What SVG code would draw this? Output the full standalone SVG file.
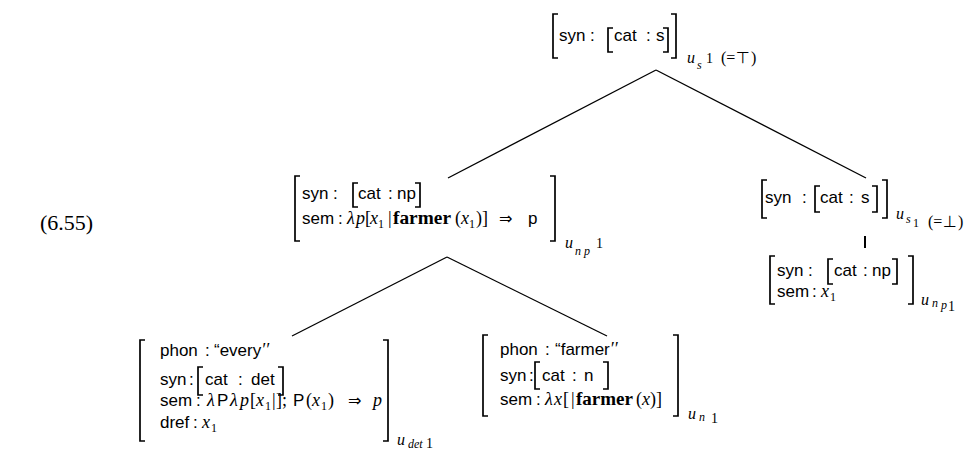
<svg xmlns="http://www.w3.org/2000/svg" width="971" height="450" viewBox="0 0 971 450">
<style>
.bg{fill:#fff}
.sf{font-family:"Liberation Sans",Arial,sans-serif;font-size:17px;fill:#000}
.mi{font-family:"Liberation Serif","Times New Roman",serif;font-style:italic;font-size:18px}
.mb{font-family:"Liberation Serif","Times New Roman",serif;font-weight:bold;font-size:18px}
.mr{font-family:"Liberation Serif","Times New Roman",serif;font-size:18px}
.sy{font-family:"DejaVu Sans",sans-serif;font-size:16px}
.su{font-family:"Liberation Serif",serif;font-style:italic;font-size:16px}
.ss{font-family:"Liberation Serif",serif;font-style:italic;font-size:12px}
.sn{font-family:"Liberation Serif",serif;font-size:14px}
.sp{font-family:"Liberation Serif",serif;font-size:16px}
.sm{font-size:12px}
.br{fill:none;stroke:#000;stroke-width:1.7}
.edge line{stroke:#000;stroke-width:1.3}
.lab{font-family:"Liberation Serif","Times New Roman",serif;font-size:22px}
</style>
<rect class="bg" width="971" height="450"/>
<text class="lab" x="40" y="230">(6.55)</text>
<g id="edges" class="edge">
<line x1="656" y1="70" x2="448" y2="178"/>
<line x1="656" y1="70" x2="866" y2="178"/>
<line x1="447" y1="257" x2="292" y2="336"/>
<line x1="447" y1="257" x2="607" y2="336"/>
<line x1="865" y1="236" x2="865" y2="248" style="stroke-width:2"/>
</g>
<g id="n_top">
<path class="br" d="M558,14H553V58H558M671,14H676V58H671M613,28H608V52H613M663,28H668V52H663"/>
<text class="sf" y="41"><tspan x="559">syn</tspan><tspan x="590">:</tspan><tspan x="614">cat</tspan><tspan x="646">:</tspan><tspan x="656">s</tspan></text>
<text y="63"><tspan class="su" x="687">u</tspan><tspan class="ss" x="697" y="69">s</tspan><tspan class="sn" x="706" y="63">1</tspan><tspan class="sp" x="721">(=</tspan><tspan class="sy" x="736" style="font-size:16px">⊤</tspan><tspan class="sp" x="751">)</tspan></text>
</g>
<g id="n_np">
<path class="br" d="M300,176H295V241H300M550,176H555V241H550M358,183H353V207H358M415,183H420V207H415"/>
<text class="sf" y="199"><tspan x="302">syn</tspan><tspan x="333">:</tspan><tspan x="358">cat</tspan><tspan x="388">:</tspan><tspan x="397">np</tspan></text>
<text class="sf" y="224"><tspan x="302">sem</tspan><tspan x="338">:</tspan><tspan class="mi" x="347">λ</tspan><tspan class="mi" x="356">p</tspan><tspan class="mr" x="365">[</tspan><tspan class="mi" x="370">x</tspan><tspan class="mr sm" x="378" dy="4">1</tspan><tspan class="mr" x="388" dy="-4">|</tspan><tspan class="mb" x="393" textLength="58" lengthAdjust="spacingAndGlyphs">farmer</tspan><tspan class="mr" x="455">(</tspan><tspan class="mi" x="461">x</tspan><tspan class="mr sm" x="469" dy="4">1</tspan><tspan class="mr" x="476" dy="-4">)</tspan><tspan class="mr" x="482">]</tspan><tspan class="sy" x="499">⇒</tspan><tspan x="528">p</tspan></text>
<text y="248"><tspan class="su" x="565">u</tspan><tspan class="ss" x="575" y="255">n p</tspan><tspan class="sn" x="596" y="248">1</tspan></text>
</g>
<g id="n_s2">
<path class="br" d="M767,180H762V218H767M882,180H887V218H882M820,186H815V212H820M872,186H877V212H872"/>
<text class="sf" y="203"><tspan x="765">syn</tspan><tspan x="802">:</tspan><tspan x="820">cat</tspan><tspan x="849">:</tspan><tspan x="861">s</tspan></text>
<text y="219"><tspan class="su" x="896">u</tspan><tspan class="ss" x="906" y="223">s</tspan><tspan class="sm mr" x="913" y="227">1</tspan><tspan class="sp" x="928">(=</tspan><tspan class="sy" x="943" style="font-size:16px">⊥</tspan><tspan class="sp" x="958">)</tspan></text>
</g>
<g id="n_np2">
<path class="br" d="M775,256H770V304H775M908,256H913V304H908M833,259H828V284H833M892,259H897V284H892"/>
<text class="sf" y="276"><tspan x="777">syn</tspan><tspan x="808">:</tspan><tspan x="834">cat</tspan><tspan x="863">:</tspan><tspan x="872">np</tspan></text>
<text class="sf" y="297"><tspan x="777">sem</tspan><tspan x="812">:</tspan><tspan class="mi" x="821">x</tspan><tspan class="mr sm" x="830" dy="4">1</tspan></text>
<text y="305"><tspan class="su" x="921">u</tspan><tspan class="ss" x="932" y="307">n</tspan><tspan class="ss" x="941" y="309">p</tspan><tspan class="sn" x="948" y="311">1</tspan></text>
</g>
<g id="n_every">
<path class="br" d="M145,340H140V441H145M383,340H388V441H383M203,367H198V395H203M278,367H283V395H278"/>
<text class="sf" y="356"><tspan x="160">phon</tspan><tspan x="205">:</tspan><tspan x="214">“every</tspan><tspan class="mi">′′</tspan></text>
<text class="sf" y="385"><tspan x="160">syn</tspan><tspan x="189">:</tspan><tspan x="205">cat</tspan><tspan x="238">:</tspan><tspan x="251">det</tspan></text>
<text class="sf" y="406"><tspan x="160">sem</tspan><tspan x="196">:</tspan><tspan class="mi" x="207">λ</tspan><tspan x="217">P</tspan><tspan class="mi" x="230">λ</tspan><tspan class="mi" x="240">p</tspan><tspan class="mr" x="250">[</tspan><tspan class="mi" x="256">x</tspan><tspan class="mr sm" x="265" dy="4">1</tspan><tspan class="mr" x="272" dy="-4">|</tspan><tspan class="mr" x="276">];</tspan><tspan x="293">P</tspan><tspan class="mr" x="306">(</tspan><tspan class="mi" x="312">x</tspan><tspan class="mr sm" x="321" dy="4">1</tspan><tspan class="mr" x="328" dy="-4">)</tspan><tspan class="sy" x="348">⇒</tspan><tspan class="mi" x="373">p</tspan></text>
<text class="sf" y="428"><tspan x="160">dref</tspan><tspan x="193">:</tspan><tspan class="mi" x="202">x</tspan><tspan class="mr sm" x="211" dy="4">1</tspan></text>
<text y="445"><tspan class="su" x="397">u</tspan><tspan class="ss" x="408" y="448">det</tspan><tspan class="sn" x="426" y="448">1</tspan></text>
</g>
<g id="n_farmer">
<path class="br" d="M488,335H483V416H488M673,335H678V416H673M540,362H535V389H540M603,362H608V389H603"/>
<text class="sf" y="355"><tspan x="500">phon</tspan><tspan x="545">:</tspan><tspan x="555">“farmer</tspan><tspan class="mi">′′</tspan></text>
<text class="sf" y="381"><tspan x="500">syn</tspan><tspan x="529">:</tspan><tspan x="542">cat</tspan><tspan x="572">:</tspan><tspan x="584">n</tspan></text>
<text class="sf" y="405"><tspan x="500">sem</tspan><tspan x="536">:</tspan><tspan class="mi" x="545">λ</tspan><tspan class="mi" x="554">x</tspan><tspan class="mr" x="563">[</tspan><tspan class="mr" x="571">|</tspan><tspan class="mb" x="576" textLength="57" lengthAdjust="spacingAndGlyphs">farmer</tspan><tspan class="mr" x="636">(</tspan><tspan class="mi" x="642">x</tspan><tspan class="mr" x="650">)]</tspan></text>
<text y="419"><tspan class="su" x="688">u</tspan><tspan class="ss" x="699" y="421">n</tspan><tspan class="sn" x="711" y="423">1</tspan></text>
</g>
</svg>
